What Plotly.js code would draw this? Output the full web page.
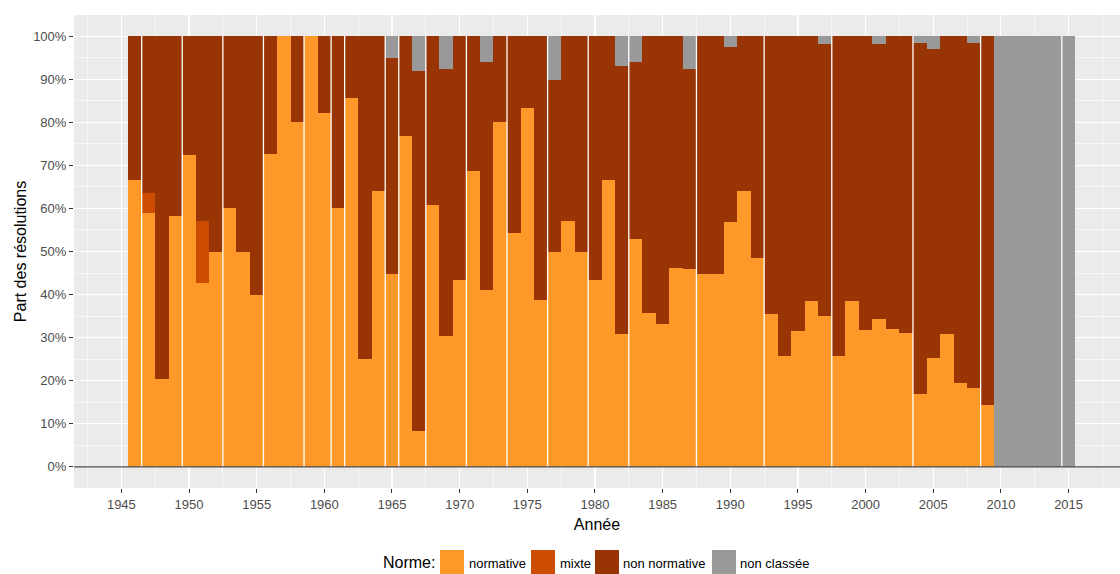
<!DOCTYPE html>
<html>
<head>
<meta charset="utf-8">
<script src="https://cdn.plot.ly/plotly-3.0.1.min.js"></script>
<style>html,body{margin:0;padding:0;background:#fff;overflow:hidden;}#chart{width:1120px;height:574px;}</style>
</head>
<body>
<div id="chart"></div>
<script>
const annees = [1946,1947,1948,1949,1950,1951,1952,1953,1954,1955,1956,1957,1958,1959,1960,1961,1962,1963,1964,1965,1966,1967,1968,1969,1970,1971,1972,1973,1974,1975,1976,1977,1978,1979,1980,1981,1982,1983,1984,1985,1986,1987,1988,1989,1990,1991,1992,1993,1994,1995,1996,1997,1998,1999,2000,2001,2002,2003,2004,2005,2006,2007,2008,2009,2010,2011,2012,2013,2014,2015];

const normative = [66.5,58.9,20.3,58.2,72.5,42.6,50,60,50,40,72.7,100,80,100,82.1,60,85.7,25,64,44.7,76.7,8.3,60.9,30.5,43.5,68.6,41,80,54.4,83.2,38.7,50,57,50,43.3,66.5,30.8,52.8,35.7,33.1,46.1,45.9,44.7,44.7,56.8,64,48.6,35.4,25.7,31.5,38.4,35,25.7,38.4,31.7,34.3,31.9,31,16.9,25.2,30.8,19.4,18.3,14.3,0,0,0,0,0,0];

const mixte = [0,4.6,0,0,0,14.4,0,0,0,0,0,0,0,0,0,0,0,0,0,0,0,0,0,0,0,0,0,0,0,0,0,0,0,0,0,0,0,0,0,0,0,0,0,0,0,0,0,0,0,0,0,0,0,0,0,0,0,0,0,0,0,0,0,0,0,0,0,0,0,0];

const nonNormative = [33.5,36.5,79.7,41.8,27.5,43,50,40,50,60,27.3,0,20,0,17.9,40,14.3,75,36,50.3,23.3,83.5,39.1,61.8,56.5,31.4,52.9,20,45.6,16.8,61.3,39.9,43,50,56.7,33.5,62.2,41.1,64.3,66.9,53.9,46.4,55.3,55.3,40.6,36,51.4,64.6,74.3,68.5,61.6,63.1,74.3,61.6,68.3,63.8,68.1,69,81.4,71.7,69.2,80.6,80,85.7,0,0,0,0,0,0];

const nonClassee = [0,0,0,0,0,0,0,0,0,0,0,0,0,0,0,0,0,0,0,5,0,8.2,0,7.7,0,0,6.1,0,0,0,0,10.1,0,0,0,0,7,6.1,0,0,0,7.7,0,0,2.6,0,0,0,0,0,0,1.9,0,0,0,1.9,0,0,1.7,3.1,0,0,1.7,0,100,100,100,100,100,100];

const separateurs = [1946.5,1949.5,1952.5,1955.5,1958.5,1960.5,1961.5,1964.5,1965.5,1967.5,1970.5,1973.5,1976.5,1979.5,1982.5,1987.5,1992.5,1997.5,2003.5,2008.5,2014.5];

const categories = ['normative', 'mixte', 'non normative', 'non classée'];
const couleurs = ['#fe9929', '#cc4c02', '#993404', '#999999'];
const series = [normative, mixte, nonNormative, nonClassee];

const FONT = '"Liberation Sans", Arial, Helvetica, sans-serif';

const data = categories.map((name, i) => ({
  type: 'bar', name: name, x: annees, y: series[i],
  marker: {color: couleurs[i], line: {width: 0}},
  hoverinfo: 'x+y+name'
}));

// --- layout geometry (pixels) ---
const W = 1120, H = 574, ML = 74, MR = 0, MT = 15, MB = 86;
const PW = W - ML - MR, PH = H - MT - MB;
const px2x = p => (p - ML) / PW;
const py2y = p => (H - MB - p) / PH;

const shapes = separateurs.map(s => ({
  type: 'line', xref: 'x', yref: 'y', x0: s, x1: s, y0: 0, y1: 100,
  line: {color: '#ffffff', width: 1.3}, layer: 'above'
}));
shapes.push({
  type: 'line', xref: 'paper', yref: 'y', x0: 0, x1: 1, y0: 0, y1: 0,
  line: {color: '#4d4d4d', width: 1.2}, layer: 'above'
});

// custom legend (ggplot style, bottom)
const keyX = [440, 531, 595, 712];
const labelX = [468, 559, 622, 739];
const keyTop = 550, keySize = 24;
const annotations = [{
  xref: 'paper', yref: 'paper', x: px2x(381), y: py2y(562.5), xanchor: 'left', yanchor: 'middle',
  text: 'Norme:', showarrow: false, font: {family: FONT, size: 16, color: '#000000'}
}];
categories.forEach((name, i) => {
  shapes.push({
    type: 'rect', xref: 'paper', yref: 'paper',
    x0: px2x(keyX[i]), x1: px2x(keyX[i] + keySize),
    y0: py2y(keyTop), y1: py2y(keyTop + keySize),
    fillcolor: couleurs[i], line: {width: 0}, layer: 'above'
  });
  annotations.push({
    xref: 'paper', yref: 'paper', x: px2x(labelX[i] - 1), y: py2y(563.5), xanchor: 'left', yanchor: 'middle',
    text: name, showarrow: false, font: {family: FONT, size: 13, color: '#000000'}
  });
});

const layout = {
  width: W, height: H,
  margin: {l: ML, r: MR, t: MT, b: MB},
  paper_bgcolor: '#ffffff',
  plot_bgcolor: '#ebebeb',
  barmode: 'stack',
  bargap: 0,
  showlegend: false,
  font: {family: FONT, color: '#000000'},
  xaxis: {
    range: [1941.5, 2018.8],
    tick0: 1945, dtick: 5,
    ticks: 'outside', ticklen: 4, tickcolor: '#333333', tickwidth: 1,
    tickfont: {family: FONT, size: 13, color: '#4d4d4d'},
    showgrid: true, gridcolor: '#ffffff', gridwidth: 1.1,
    minor: {dtick: 2.5, tick0: 1945, showgrid: true, gridcolor: '#ffffff', gridwidth: 0.6, ticks: ''},
    zeroline: false, showline: false, automargin: false,
    title: {text: 'Année', font: {family: FONT, size: 16, color: '#000000'}, standoff: 8}
  },
  yaxis: {
    range: [-4.9, 104.9],
    tick0: 0, dtick: 10, ticksuffix: '%',
    ticks: 'outside', ticklen: 4, tickcolor: '#333333', tickwidth: 1,
    tickfont: {family: FONT, size: 13, color: '#4d4d4d'},
    showgrid: true, gridcolor: '#ffffff', gridwidth: 1.1,
    minor: {dtick: 5, tick0: 0, showgrid: true, gridcolor: '#ffffff', gridwidth: 0.6, ticks: ''},
    zeroline: false, showline: false, automargin: false,
    title: {text: 'Part des résolutions', font: {family: FONT, size: 16, color: '#000000'}, standoff: 2}
  },
  shapes: shapes,
  annotations: annotations
};

Plotly.newPlot('chart', data, layout, {displayModeBar: false, staticPlot: true});
</script>
</body>
</html>
